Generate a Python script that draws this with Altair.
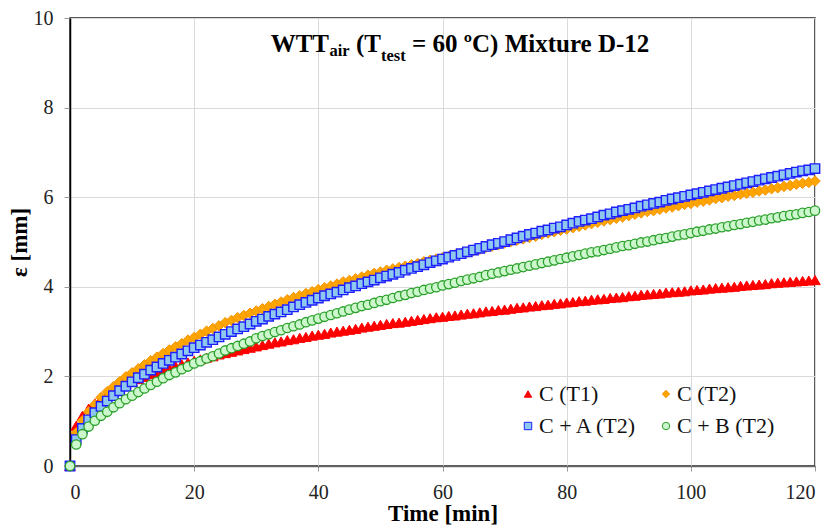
import altair as alt
import pandas as pd

# ---- data ----
time_min = list(range(0, 121))

c_t1 = [0, 0.90, 1.12, 1.28, 1.40, 1.51, 1.60, 1.68, 1.75, 1.82, 1.88,
        1.94, 1.99, 2.05, 2.09, 2.14, 2.19, 2.23, 2.27, 2.31, 2.35,
        2.38, 2.42, 2.45, 2.49, 2.52, 2.55, 2.58, 2.61, 2.64, 2.67,
        2.70, 2.73, 2.76, 2.78, 2.81, 2.83, 2.86, 2.88, 2.91, 2.93,
        2.95, 2.98, 3.00, 3.02, 3.04, 3.06, 3.09, 3.11, 3.13, 3.15,
        3.17, 3.19, 3.20, 3.22, 3.24, 3.26, 3.28, 3.30, 3.32, 3.33,
        3.35, 3.36, 3.38, 3.40, 3.41, 3.43, 3.45, 3.46, 3.48, 3.49,
        3.51, 3.53, 3.54, 3.56, 3.57, 3.59, 3.60, 3.62, 3.63, 3.65,
        3.66, 3.68, 3.69, 3.71, 3.72, 3.73, 3.75, 3.76, 3.77, 3.79,
        3.80, 3.82, 3.83, 3.84, 3.85, 3.87, 3.88, 3.89, 3.90, 3.92,
        3.93, 3.94, 3.96, 3.97, 3.98, 3.99, 4.00, 4.02, 4.03, 4.04,
        4.05, 4.06, 4.08, 4.09, 4.10, 4.11, 4.12, 4.13, 4.14, 4.15]

c_t2 = [0, 0.74, 1.01, 1.21, 1.37, 1.53, 1.66, 1.77, 1.88, 1.99, 2.08,
        2.17, 2.26, 2.35, 2.43, 2.51, 2.59, 2.66, 2.73, 2.81, 2.87,
        2.94, 3.01, 3.07, 3.13, 3.20, 3.25, 3.31, 3.36, 3.41, 3.46,
        3.51, 3.56, 3.61, 3.66, 3.71, 3.76, 3.80, 3.85, 3.89, 3.94,
        3.98, 4.02, 4.06, 4.11, 4.14, 4.18, 4.22, 4.26, 4.30, 4.33,
        4.37, 4.40, 4.43, 4.46, 4.49, 4.52, 4.56, 4.59, 4.62, 4.65,
        4.68, 4.71, 4.74, 4.78, 4.81, 4.84, 4.88, 4.91, 4.94, 4.98,
        5.01, 5.04, 5.07, 5.10, 5.13, 5.17, 5.20, 5.23, 5.26, 5.29,
        5.32, 5.35, 5.38, 5.41, 5.44, 5.47, 5.50, 5.53, 5.56, 5.59,
        5.62, 5.65, 5.68, 5.70, 5.73, 5.76, 5.78, 5.81, 5.84, 5.86,
        5.89, 5.91, 5.94, 5.97, 5.99, 6.02, 6.04, 6.07, 6.09, 6.11,
        6.14, 6.16, 6.19, 6.21, 6.24, 6.26, 6.29, 6.31, 6.33, 6.36]

ca_t2 = [0, 0.59, 0.84, 1.03, 1.19, 1.33, 1.45, 1.57, 1.68, 1.78, 1.88,
         1.97, 2.05, 2.14, 2.21, 2.29, 2.36, 2.43, 2.50, 2.57, 2.64,
         2.70, 2.76, 2.82, 2.88, 2.94, 3.00, 3.06, 3.11, 3.17, 3.23,
         3.28, 3.34, 3.39, 3.44, 3.49, 3.55, 3.60, 3.65, 3.70, 3.75,
         3.80, 3.84, 3.88, 3.93, 3.98, 4.02, 4.07, 4.11, 4.15, 4.20,
         4.24, 4.28, 4.32, 4.37, 4.41, 4.45, 4.49, 4.54, 4.58, 4.62,
         4.66, 4.70, 4.74, 4.78, 4.82, 4.86, 4.90, 4.94, 4.97, 5.01,
         5.05, 5.09, 5.13, 5.17, 5.20, 5.24, 5.27, 5.31, 5.34, 5.38,
         5.42, 5.46, 5.49, 5.52, 5.56, 5.60, 5.63, 5.67, 5.70, 5.73,
         5.76, 5.80, 5.83, 5.86, 5.89, 5.93, 5.96, 5.99, 6.02, 6.05,
         6.08, 6.11, 6.14, 6.17, 6.20, 6.23, 6.26, 6.29, 6.32, 6.35,
         6.38, 6.41, 6.44, 6.47, 6.50, 6.53, 6.56, 6.59, 6.61, 6.64]

cb_t2 = [0, 0.48, 0.71, 0.88, 1.01, 1.12, 1.21, 1.31, 1.40, 1.49, 1.57,
         1.65, 1.73, 1.81, 1.88, 1.96, 2.03, 2.09, 2.16, 2.22, 2.29,
         2.34, 2.40, 2.45, 2.51, 2.58, 2.63, 2.68, 2.73, 2.78, 2.85,
         2.90, 2.94, 2.99, 3.03, 3.08, 3.12, 3.16, 3.21, 3.25, 3.29,
         3.33, 3.37, 3.41, 3.45, 3.49, 3.53, 3.57, 3.60, 3.64, 3.68,
         3.71, 3.75, 3.79, 3.82, 3.86, 3.89, 3.93, 3.96, 3.99, 4.03,
         4.06, 4.09, 4.13, 4.16, 4.19, 4.22, 4.26, 4.29, 4.32, 4.35,
         4.38, 4.41, 4.44, 4.47, 4.50, 4.53, 4.56, 4.59, 4.62, 4.65,
         4.68, 4.71, 4.74, 4.77, 4.79, 4.82, 4.85, 4.88, 4.91, 4.93,
         4.96, 4.99, 5.01, 5.04, 5.07, 5.09, 5.12, 5.15, 5.17, 5.20,
         5.23, 5.25, 5.28, 5.30, 5.33, 5.35, 5.38, 5.40, 5.43, 5.45,
         5.48, 5.50, 5.53, 5.55, 5.58, 5.60, 5.62, 5.65, 5.67, 5.70]

series_names = ["C (T1)", "C (T2)", "C + A (T2)", "C + B (T2)"]
x_ticks = [0, 20, 40, 60, 80, 100, 120]
y_ticks = [0, 2, 4, 6, 8, 10]

# ---- styles ----
fills = ["#FF0000", "#FFA500", "#8EC8EE", "#CCF7CC"]
strokes = ["#FF0000", "#F39200", "#1E1EFF", "#2AA02A"]
shapes = ["triangle-up", "diamond", "square", "circle"]
sizes = [110, 110, 88, 88]
stroke_widths = [1, 1, 1.4, 1.3]

rows = []
for name, vals in zip(series_names, [c_t1, c_t2, ca_t2, cb_t2]):
    for t, v in zip(time_min, vals):
        rows.append({"t": t, "eps": v, "series": name})
df = pd.DataFrame(rows)

FONT = "Liberation Serif"

legend = alt.Legend(
    title=None, orient="none", legendX=447, legendY=365, columns=2,
    direction="horizontal",
    labelFont=FONT, labelFontSize=22, labelColor="#111", labelOffset=0,
    symbolSize=55, symbolStrokeWidth=1, rowPadding=10, columnPadding=17,
    padding=0,
)

enc = dict(
    x=alt.X("t:Q", scale=alt.Scale(domain=[0, 120], nice=False),
            axis=alt.Axis(values=x_ticks, title="Time [min]")),
    y=alt.Y("eps:Q", scale=alt.Scale(domain=[0, 10], nice=False),
            axis=alt.Axis(values=y_ticks, title="ε [mm]")),
    fill=alt.Fill("series:N", scale=alt.Scale(domain=series_names, range=fills), legend=legend),
    stroke=alt.Stroke("series:N", scale=alt.Scale(domain=series_names, range=strokes), legend=legend),
    shape=alt.Shape("series:N", scale=alt.Scale(domain=series_names, range=shapes), legend=legend),
)

base = alt.Chart(df)
point_layers = []
for name, sz, sw in zip(series_names, sizes, stroke_widths):
    point_layers.append(
        base.mark_point(filled=True, size=sz, strokeWidth=sw, opacity=1)
        .encode(**enc)
        .transform_filter(alt.datum.series == name)
    )

one = alt.Data(values=[{"k": 1}])

def piece(txt, xpos, ypos, fsize):
    return alt.Chart(one).mark_text(
        text=txt, font=FONT, fontWeight="bold", fontSize=fsize, color="black",
        align="left", baseline="alphabetic",
    ).encode(x=alt.value(xpos), y=alt.value(ypos))

title_layers = [
    piece("WTT", 200.7, 33.7, 25),
    piece("air", 259.5, 37.5, 16.5),
    piece("(T", 286.0, 33.7, 25),
    piece("test", 311.0, 42.5, 16.5),
    piece("= 60 ºC) Mixture D-12", 342.0, 33.7, 25),
]

chart = alt.layer(*point_layers, *title_layers).properties(
    width=745, height=448,
    padding={"left": 0, "top": 0, "right": 0, "bottom": 0},
).configure_view(
    stroke="#222", strokeWidth=1.5,
).configure_axis(
    labelFont=FONT, labelFontSize=20, labelColor="#222",
    titleFont=FONT, titleFontSize=23, titleFontWeight="bold", titleColor="black",
    gridColor="#DADADA", gridWidth=1, tickColor="#9A9A9A",
).configure_axisY(
    domainColor="black", domainWidth=1.5, tickSize=6, labelPadding=11, titlePadding=2,
).configure_axisX(
    domainColor="#666", domainWidth=1.5, tickSize=5, labelPadding=11, titlePadding=0,
)

chart.save("out.html", embed_options={"renderer": "svg", "actions": False})
